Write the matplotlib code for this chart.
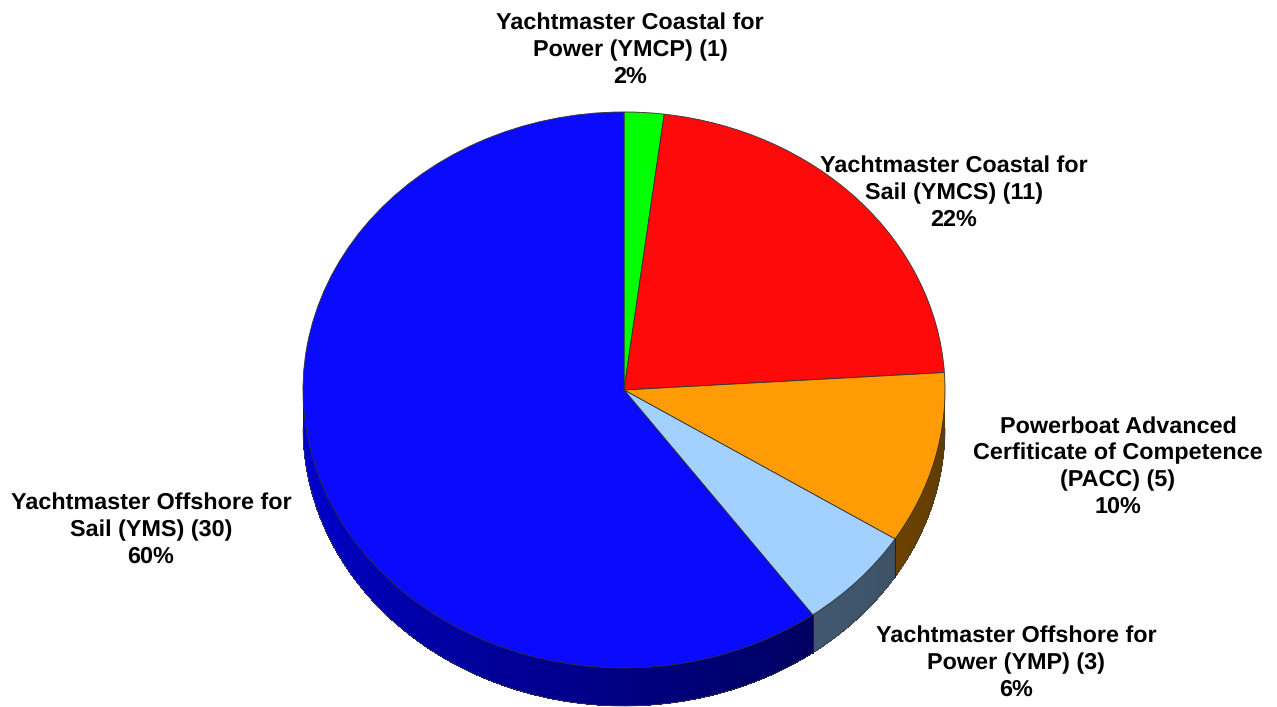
import matplotlib
matplotlib.use("Agg")
import matplotlib.pyplot as plt
import numpy as np

W, H = 1277, 707
CX, CY = 624, 390
RX, RY = 321, 278
DEPTH = 38

categories = [
    "Yachtmaster Coastal for\nPower (YMCP) (1)\n2%",
    "Yachtmaster Coastal for\nSail (YMCS) (11)\n22%",
    "Powerboat Advanced\nCerfiticate of Competence\n(PACC) (5)\n10%",
    "Yachtmaster Offshore for\nPower (YMP) (3)\n6%",
    "Yachtmaster Offshore for\nSail (YMS) (30)\n60%",
]
counts = [1, 11, 5, 3, 30]
colors = ["#00ff00", "#ff0a0a", "#ff9c05", "#a3d1ff", "#0a0aff"]
wall_left = ["#008000", "#800000", "#6b4200", "#415870", "#0000d8"]
wall_right = ["#008000", "#800000", "#5c3a00", "#3d5266", "#000060"]
label_x = [630, 954, 1118, 1016, 151]
label_y = [50, 193, 467, 663, 530]

plt.rcParams["font.family"] = ["Liberation Sans", "DejaVu Sans"]
plt.rcParams["text.hinting"] = "no_hinting"

fig = plt.figure(figsize=(W / 100, H / 100), dpi=100)
ax = fig.add_axes([0, 0, 1, 1])

# side wall, drawn below the pie
edges = np.cumsum([0] + counts) / sum(counts) * 2 * np.pi
drop = DEPTH / RY
for i in range(len(counts)):
    start = max(edges[i], np.pi / 2)
    stop = min(edges[i + 1], 3 * np.pi / 2)
    if stop <= start:
        continue
    steps = np.linspace(start, stop, 61)
    c0 = np.array(matplotlib.colors.to_rgb(wall_right[i]))
    c1 = np.array(matplotlib.colors.to_rgb(wall_left[i]))
    for j in range(60):
        a = steps[j:j + 2]
        t = (j + 0.5) / 60
        px = np.sin(a)
        py = np.cos(a)
        xs = np.r_[px, px[::-1]]
        ys = np.r_[py, py[::-1] - drop]
        ax.fill(xs, ys, facecolor=c0 + (c1 - c0) * t, edgecolor="none", antialiased=False, zorder=1)
    # smooth outline along the bottom rim
    a = np.linspace(start, stop, 61)
    ax.plot(np.sin(a), np.cos(a) - drop, color="#404040", lw=0.5, zorder=1.5)
    # dark seam at the slice edge
    for a in (edges[i], edges[i + 1]):
        if np.pi / 2 < a < 3 * np.pi / 2:
            ax.plot([np.sin(a)] * 2, [np.cos(a), np.cos(a) - drop], color="#202020", lw=0.7, zorder=2)

wedges, _ = ax.pie(counts, colors=colors, startangle=90, counterclock=False, radius=1,
                   wedgeprops={"edgecolor": "#303030", "linewidth": 0.6})
for w in wedges:
    w.set_zorder(3)

# stretch to the ellipse seen in the picture
ax.set_aspect("auto")
ax.set_xlim(-CX / RX, (W - CX) / RX)
ax.set_ylim((CY - H) / RY, CY / RY)
ax.axis("off")

for text, x, y in zip(categories, label_x, label_y):
    fig.text(x / W, 1 - y / H, text, ha="center", va="center", fontsize=16.8,
             fontweight="bold", color="black", linespacing=1.32)

fig.savefig("out.png", dpi=100, facecolor="white")
